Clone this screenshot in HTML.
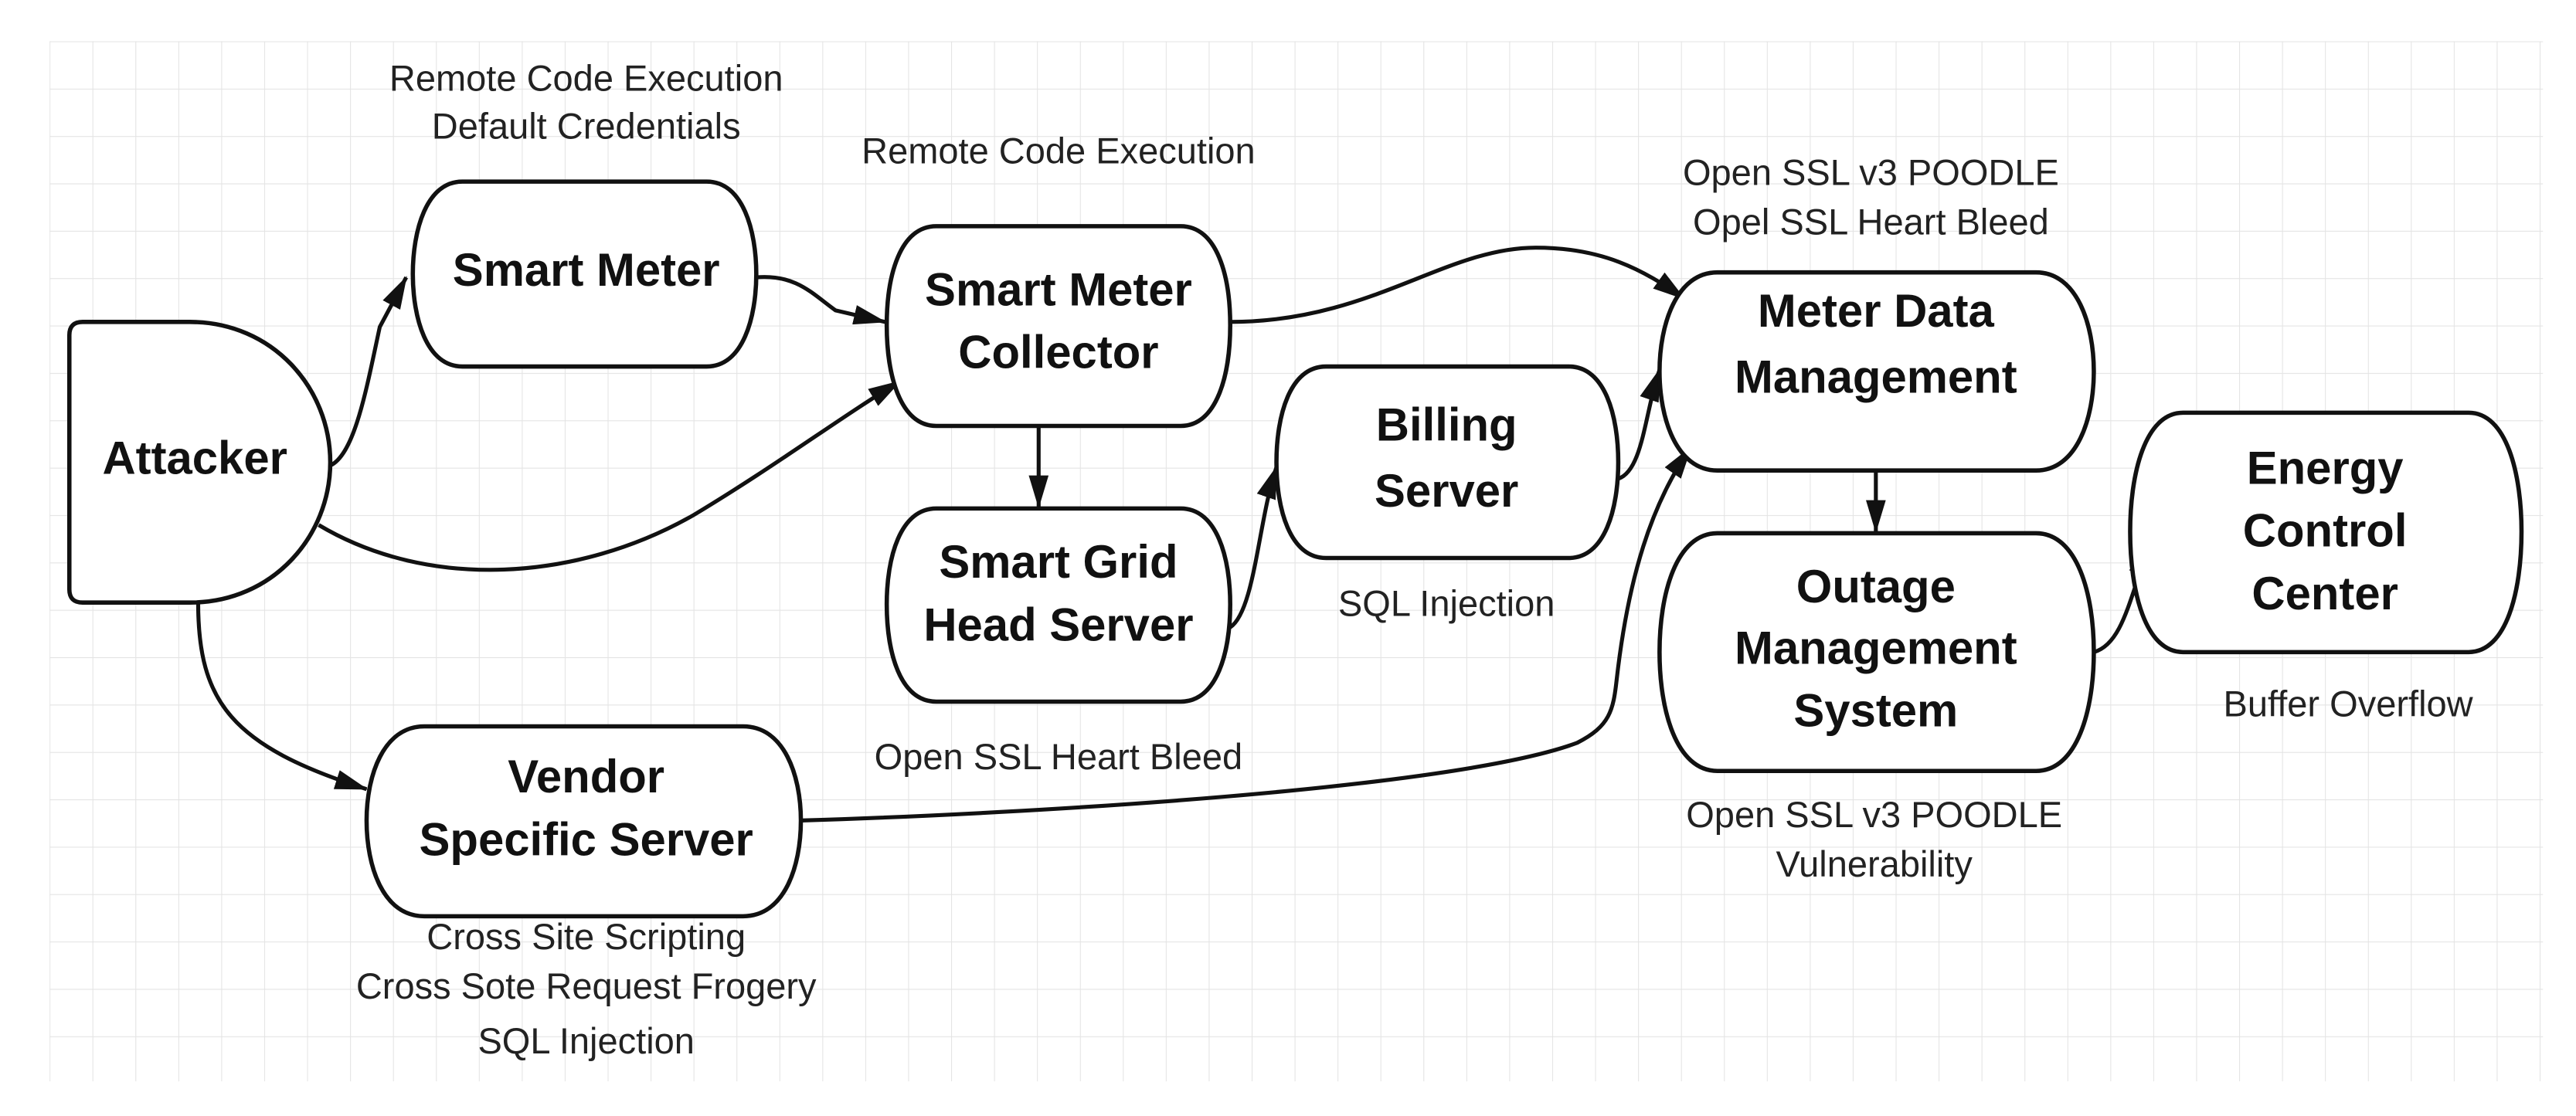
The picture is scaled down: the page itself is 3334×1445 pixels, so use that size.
<!DOCTYPE html>
<html><head><meta charset="utf-8"><style>
html,body{margin:0;padding:0;background:#fff;}
svg{display:block;}
.n{font-family:"Liberation Sans Narrow","Liberation Sans",sans-serif;font-weight:bold;font-size:28px;fill:#111;text-anchor:middle;}
.l{font-family:"Liberation Sans Narrow","Liberation Sans",sans-serif;font-size:22px;fill:#222;text-anchor:middle;}
.s{fill:#fff;stroke:#111;stroke-width:2.6;}
.c{fill:none;stroke:#111;stroke-width:2.4;}
</style></head><body>
<svg width="3334" height="1445" viewBox="0 0 1560 676" preserveAspectRatio="none" xmlns="http://www.w3.org/2000/svg">
<defs>
<pattern id="g" x="30" y="25" width="26" height="28.7" patternUnits="userSpaceOnUse">
<path d="M0 0V28.7M0 0H26" stroke="#e4e4e4" stroke-width="1" fill="none"/>
</pattern>
<marker id="b" markerWidth="20" markerHeight="12" refX="19" refY="6" orient="auto" markerUnits="userSpaceOnUse"><path d="M0 0L20 6L0 12z" fill="#111"/></marker>
</defs>
<rect x="30" y="25" width="1510" height="630" fill="url(#g)"/>

<path class="c" marker-end="url(#b)" d="M200,282 C215,275 222,235 230,198 L246,168"/>
<path class="c" marker-end="url(#b)" d="M458,168 C482,166 492,178 506,188 L536,195"/>
<path class="c" marker-end="url(#b)" d="M193,318 C260,358 350,352 420,312 C470,282 510,252 545,231"/>
<path class="c" marker-end="url(#b)" d="M745,195 C830,195 875,150 930,150 C970,150 995,163 1020,181"/>
<path class="c" marker-end="url(#b)" d="M629,258 L629,307"/>
<path class="c" marker-end="url(#b)" d="M745,380 C760,370 762,315 773,283"/>
<path class="c" marker-end="url(#b)" d="M980,290 C995,285 996,250 1005,224"/>
<path class="c" marker-end="url(#b)" d="M485,497 C620,493 880,478 955,450 C975,440 977,430 979,412 C986,350 1000,305 1024,271"/>
<path class="c" marker-end="url(#b)" d="M120,365 C120,425 140,452 222,478"/>
<path class="c" marker-end="url(#b)" d="M1136,285 L1136,322"/>
<path class="c" marker-end="url(#b)" d="M1268,395 C1286,390 1290,360 1302,330"/>

<path class="s" d="M50,195 H115 C165,195 200,235 200,280 C200,325 165,365 115,365 H50 Q42,365 42,357 V203 Q42,195 50,195Z"/>
<text class="n" x="118" y="287">Attacker</text>

<path class="s" d="M280,110 H428 C450,110 458,140 458,166 C458,192 450,222 428,222 H280 C258,222 250,192 250,166 C250,140 258,110 280,110Z"/>
<text class="n" x="355" y="173">Smart Meter</text>

<path class="s" d="M567,137 H715 C737,137 745,167 745,197 C745,227 737,258 715,258 H567 C545,258 537,227 537,197 C537,167 545,137 567,137Z"/>
<text class="n" x="641" y="185">Smart Meter</text><text class="n" x="641" y="223">Collector</text>

<path class="s" d="M567,308 H715 C737,308 745,338 745,366 C745,395 737,425 715,425 H567 C545,425 537,395 537,366 C537,338 545,308 567,308Z"/>
<text class="n" x="641" y="350">Smart Grid</text><text class="n" x="641" y="388">Head Server</text>

<path class="s" d="M803,222 H950 C972,222 980,252 980,280 C980,308 972,338 950,338 H803 C781,338 773,308 773,280 C773,252 781,222 803,222Z"/>
<text class="n" x="876" y="267">Billing</text><text class="n" x="876" y="307">Server</text>

<path class="s" d="M1040,165 H1233 C1258,165 1268,197 1268,225 C1268,253 1258,285 1233,285 H1040 C1015,285 1005,253 1005,225 C1005,197 1015,165 1040,165Z"/>
<text class="n" x="1136" y="198">Meter Data</text><text class="n" x="1136" y="238">Management</text>

<path class="s" d="M1040,323 H1233 C1258,323 1268,360 1268,395 C1268,430 1258,467 1233,467 H1040 C1015,467 1005,430 1005,395 C1005,360 1015,323 1040,323Z"/>
<text class="n" x="1136" y="365">Outage</text><text class="n" x="1136" y="402">Management</text><text class="n" x="1136" y="440">System</text>

<path class="s" d="M1322,250 H1495 C1518,250 1527,287 1527,322 C1527,358 1518,395 1495,395 H1322 C1299,395 1290,358 1290,322 C1290,287 1299,250 1322,250Z"/>
<text class="n" x="1408" y="293">Energy</text><text class="n" x="1408" y="331">Control</text><text class="n" x="1408" y="369">Center</text>

<path class="s" d="M257,440 H450 C475,440 485,470 485,497 C485,525 475,555 450,555 H257 C232,555 222,525 222,497 C222,470 232,440 257,440Z"/>
<text class="n" x="355" y="480">Vendor</text><text class="n" x="355" y="518">Specific Server</text>

<text class="l" x="355" y="55">Remote Code Execution</text>
<text class="l" x="355" y="84">Default Credentials</text>
<text class="l" x="641" y="99">Remote Code Execution</text>
<text class="l" x="1133" y="112">Open SSL v3 POODLE</text>
<text class="l" x="1133" y="142">Opel SSL Heart Bleed</text>
<text class="l" x="876" y="373">SQL Injection</text>
<text class="l" x="1422" y="434">Buffer Overflow</text>
<text class="l" x="641" y="466">Open SSL Heart Bleed</text>
<text class="l" x="1135" y="501">Open SSL v3 POODLE</text>
<text class="l" x="1135" y="531">Vulnerability</text>
<text class="l" x="355" y="575">Cross Site Scripting</text>
<text class="l" x="355" y="605">Cross Sote Request Frogery</text>
<text class="l" x="355" y="638">SQL Injection</text>
</svg>
</body></html>
